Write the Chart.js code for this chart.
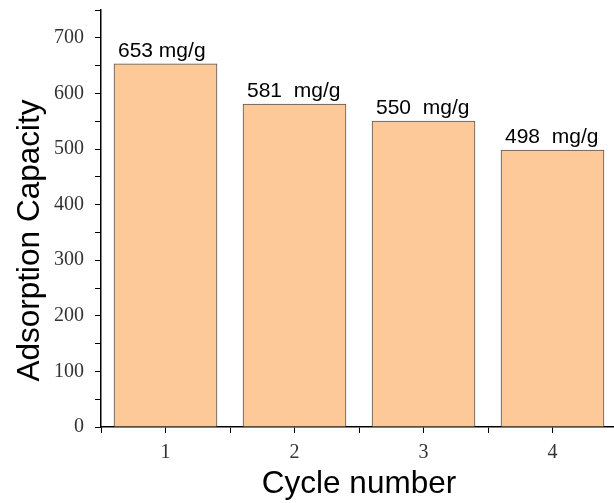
<!DOCTYPE html>
<html>
<head>
<meta charset="utf-8">
<script src="https://cdn.jsdelivr.net/npm/chart.js@4"></script>
<style>
  html, body { margin: 0; padding: 0; overflow: hidden; background: #fff; }
  #wrap { width: 618px; height: 503px; }
</style>
</head>
<body>
<div id="wrap"><canvas id="cyc-chart" width="618" height="503"></canvas></div>
<script>
// datos del grafico
var cycles = [1, 2, 3, 4];
var capacity = [653, 581, 550, 498];
var capLabels = ['653 mg/g', '581  mg/g', '550  mg/g', '498  mg/g'];
var yTitle = 'Adsorption Capacity';

// etiquetas encima de cada barra y titulo del eje y
var barLabels = {
    id: 'barLabels',
    afterDatasetsDraw: function (chart) {
        var ctx = chart.ctx;
        var meta = chart.getDatasetMeta(0);
        var area = chart.chartArea;
        ctx.save();
        ctx.font = '21px "Liberation Sans", Arial, sans-serif';
        ctx.fillStyle = '#000';
        ctx.textAlign = 'left';
        ctx.textBaseline = 'bottom';
        meta.data.forEach(function (bar, i) {
            ctx.fillText(capLabels[i], bar.x - bar.width / 2 + 4, bar.y - 2);
        });
        ctx.restore();

        ctx.save();
        ctx.font = '31.5px "Liberation Sans", Arial, sans-serif';
        ctx.fillStyle = '#000';
        ctx.textAlign = 'center';
        ctx.textBaseline = 'middle';
        ctx.translate(30, (area.top + area.bottom) / 2 + 22);
        ctx.rotate(-Math.PI / 2);
        ctx.fillText(yTitle, 0, 0);
        ctx.restore();
    }
};

var ctx = document.getElementById('cyc-chart').getContext('2d');
var cycChart = new Chart(ctx, {
    type: 'bar',
    data: {
        datasets: [{
            data: cycles.map(function (c, i) { return { x: c, y: capacity[i] }; }),
            backgroundColor: '#FDC998',
            borderColor: '#555555',
            borderWidth: 1,
            barThickness: 103
        }]
    },
    plugins: [barLabels],
    options: {
        responsive: false,
        animation: false,
        layout: { padding: { top: 10, right: 1, left: 0, bottom: 0 } },
        plugins: { legend: { display: false }, tooltip: { enabled: false } },
        scales: {
            x: {
                type: 'linear',
                offset: false,
                min: 0.5,
                max: 4.5,
                afterFit: function (s) { s.height = 76; s.paddingRight = 0; s.paddingLeft = 0; },
                border: { color: '#000', width: 1.5 },
                grid: { offset: false, drawOnChartArea: false, drawTicks: true, tickLength: 6, color: '#000' },
                ticks: {
                    stepSize: 0.5,
                    autoSkip: false,
                    maxRotation: 0,
                    padding: 8,
                    color: '#333',
                    font: { family: '"Liberation Serif", "Times New Roman", serif', size: 20 },
                    callback: function (v) { return Number.isInteger(v) ? v : ''; }
                },
                title: {
                    display: true,
                    text: 'Cycle number',
                    color: '#000',
                    font: { family: '"Liberation Sans", Arial, sans-serif', size: 31.5 },
                    padding: { top: 2, bottom: 0 }
                }
            },
            y: {
                min: 0,
                max: 750,
                afterFit: function (s) { s.width = 101; s.paddingTop = 0; s.paddingBottom = 0; },
                border: { color: '#000', width: 1.5 },
                grid: { drawOnChartArea: false, drawTicks: true, tickLength: 6, color: '#000' },
                ticks: {
                    stepSize: 50,
                    autoSkip: false,
                    padding: 11,
                    color: '#333',
                    font: { family: '"Liberation Serif", "Times New Roman", serif', size: 20 },
                    callback: function (v) { return v % 100 === 0 ? v : ''; }
                }
            }
        }
    }
});
</script>
</body>
</html>
